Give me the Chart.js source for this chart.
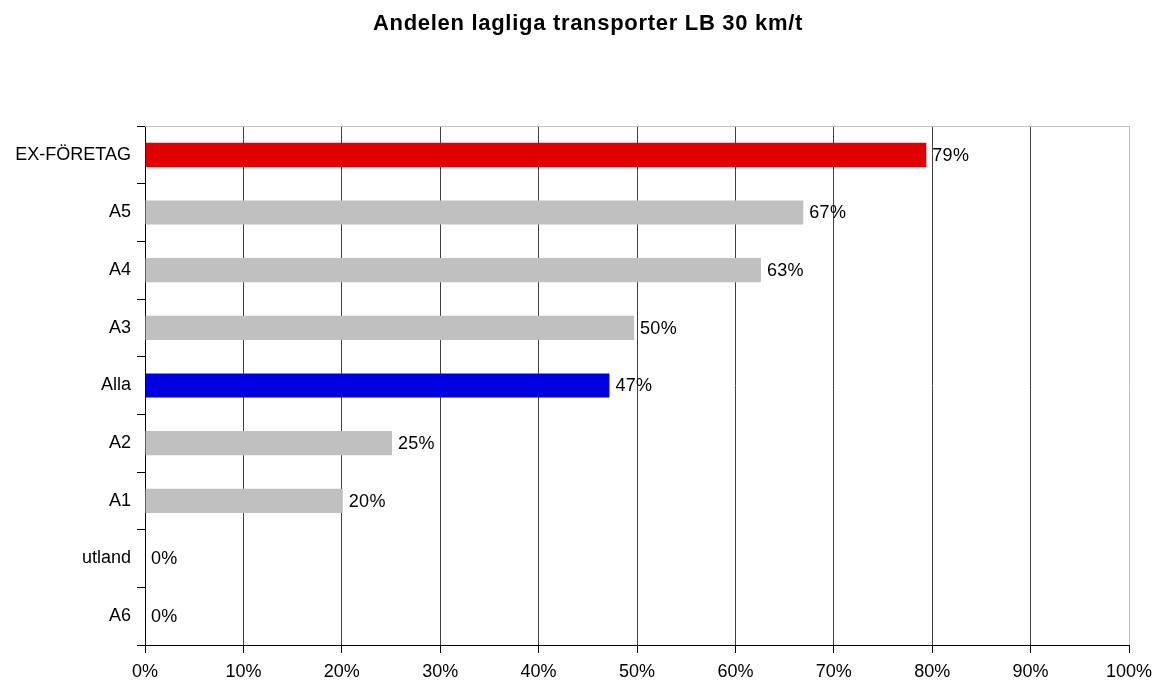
<!DOCTYPE html>
<html>
<head>
<meta charset="utf-8">
<script src="https://cdn.jsdelivr.net/npm/chart.js@4/dist/chart.umd.min.js"></script>
<style>
  html, body { margin: 0; padding: 0; background: #fff; }
  #wrap { width: 1157px; height: 683px; }
</style>
</head>
<body>
<div id="wrap"><canvas id="c"></canvas></div>
<script>
const chartTitle = "Andelen lagliga transporter LB 30 km/t";
const categories = ["EX-FÖRETAG", "A5", "A4", "A3", "Alla", "A2", "A1", "utland", "A6"];
const shares = [79.4, 66.9, 62.6, 49.7, 47.2, 25.1, 20.1, 0, 0];
const shareLabels = ["79%", "67%", "63%", "50%", "47%", "25%", "20%", "0%", "0%"];
const barColors = ["#e00000", "#c0c0c0", "#c0c0c0", "#c0c0c0", "#0000e0", "#c0c0c0", "#c0c0c0", "#c0c0c0", "#c0c0c0"];

const font = "'Liberation Sans', Arial, sans-serif";

// title, value labels right of each bar, light top border
const extras = {
  id: "extras",
  afterDatasetsDraw(chart) {
    const ctx = chart.ctx;
    const area = chart.chartArea;
    ctx.save();
    ctx.strokeStyle = "#c0c0c0";
    ctx.lineWidth = 1;
    ctx.beginPath();
    ctx.moveTo(area.left, area.top + 0.5);
    ctx.lineTo(area.right, area.top + 0.5);
    ctx.stroke();

    ctx.fillStyle = "#000";
    ctx.textBaseline = "middle";
    ctx.textAlign = "center";
    ctx.font = "bold 22px " + font;
    if ("letterSpacing" in ctx) ctx.letterSpacing = "0.7px";
    ctx.fillText(chartTitle, 588, 24);
    if ("letterSpacing" in ctx) ctx.letterSpacing = "0.3px";

    ctx.font = "18px " + font;
    ctx.textAlign = "left";
    chart.getDatasetMeta(0).data.forEach((bar, i) => {
      ctx.fillText(shareLabels[i], bar.x + 6, bar.y + 1);
    });
    ctx.restore();
  }
};

new Chart(document.getElementById("c"), {
  type: "bar",
  data: {
    labels: categories,
    datasets: [{
      data: shares,
      backgroundColor: barColors,
      borderWidth: 0,
      categoryPercentage: 1,
      barPercentage: 0.42
    }]
  },
  options: {
    indexAxis: "y",
    responsive: true,
    maintainAspectRatio: false,
    animation: false,
    layout: { padding: { top: 126, right: 28, bottom: 0, left: 0 } },
    plugins: {
      legend: { display: false },
      tooltip: { enabled: false },
      title: { display: false }
    },
    scales: {
      x: {
        min: 0,
        max: 100,
        afterFit: s => { s.height = 38; s.paddingLeft = 0; s.paddingRight = 0; },
        ticks: {
          stepSize: 10,
          color: "#000",
          padding: 8,
          font: { family: font, size: 18 },
          callback: v => v + "%"
        },
        grid: {
          color: c => (c.tick && c.tick.value === 100) ? "#c0c0c0" : "#404040",
          tickColor: "#000",
          tickLength: 8,
          lineWidth: 1
        },
        border: { color: "#000", width: 1 }
      },
      y: {
        afterFit: s => { s.width = 145; },
        ticks: {
          color: "#000",
          padding: 6,
          font: { family: font, size: 18 }
        },
        grid: {
          offset: true,
          drawOnChartArea: false,
          tickColor: "#000",
          tickLength: 8
        },
        border: { color: "#000", width: 1 }
      }
    }
  },
  plugins: [extras]
});
</script>
</body>
</html>
